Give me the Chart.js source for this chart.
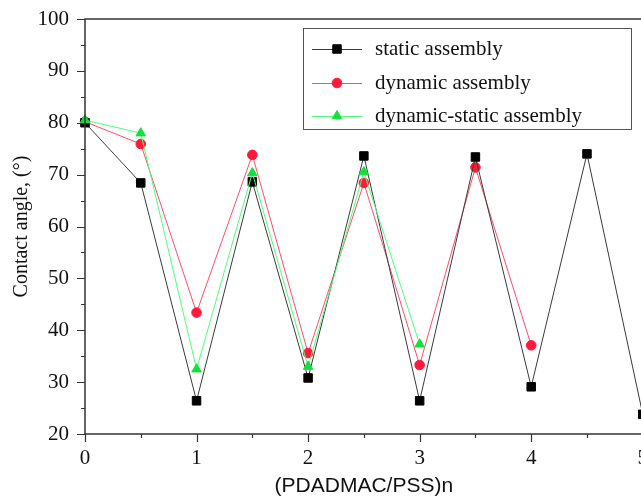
<!DOCTYPE html>
<html>
<head>
<meta charset="utf-8">
<script src="https://cdn.jsdelivr.net/npm/chart.js@4"></script>
<style>
  html, body { margin: 0; padding: 0; background: #fff; overflow: hidden; }
  canvas { display: block; }
</style>
</head>
<body>
<canvas id="angleChart" width="660" height="502"></canvas>
<script>
// layer counts (PDADMAC/PSS)n
const layers = [0, 0.5, 1, 1.5, 2, 2.5, 3, 3.5, 4, 4.5, 5];

// contact angles
const staticAngle = [80, 68.4, 26.4, 68.6, 30.8, 73.6, 26.4, 73.4, 29.1, 74, 23.8];
const dynamicAngle = [80.2, 75.9, 43.4, 73.8, 35.6, 68.4, 33.3, 71.4, 37.1];
const dynStaticAngle = [80.5, 78, 32.5, 70.3, 33, 70.5, 37.3];

const seriesNames = ['static assembly', 'dynamic assembly', 'dynamic-static assembly'];

const serif = "'Liberation Serif', 'Times New Roman', serif";

function toPoints(values) {
    return values.map((v, i) => ({ x: layers[i], y: v }));
}

// ticks drawn by hand so that minor ticks are shorter
const frameAndTicks = {
    id: 'frameAndTicks',
    afterDatasetsDraw(chart) {
        const ctx = chart.ctx;
        const area = chart.chartArea;
        const xs = chart.scales.x;
        const ys = chart.scales.y;
        ctx.save();
        ctx.strokeStyle = '#333';
        ctx.lineWidth = 1.5;
        ctx.strokeRect(area.left, area.top, area.right - area.left, area.bottom - area.top);
        ctx.lineWidth = 1.2;
        ctx.beginPath();
        for (let v = 20; v <= 100; v += 5) {
            const py = Math.round(ys.getPixelForValue(v)) + 0.5;
            const len = v % 10 === 0 ? 8 : 4;
            ctx.moveTo(area.left - len, py);
            ctx.lineTo(area.left, py);
        }
        for (let v = 0; v <= 5; v += 0.5) {
            const px = Math.round(xs.getPixelForValue(v)) + 0.5;
            const len = v % 1 === 0 ? 8 : 4;
            ctx.moveTo(px, area.bottom);
            ctx.lineTo(px, area.bottom + len);
        }
        ctx.stroke();
        ctx.restore();
    }
};

function drawMarker(ctx, style, r, x, y) {
    if (style === 'rect') {
        const s = Math.SQRT1_2 * r;
        ctx.rect(x - s, y - s, 2 * s, 2 * s);
    } else if (style === 'triangle') {
        ctx.moveTo(x, y - r);
        ctx.lineTo(x + r * 0.866, y + r * 0.5);
        ctx.lineTo(x - r * 0.866, y + r * 0.5);
        ctx.closePath();
    } else {
        ctx.arc(x, y, r, 0, Math.PI * 2);
    }
}

// legend box inside the plot, line + marker samples
const boxLegend = {
    id: 'boxLegend',
    afterDraw(chart) {
        const ctx = chart.ctx;
        ctx.save();
        ctx.strokeStyle = '#555';
        ctx.lineWidth = 1;
        ctx.fillStyle = '#fff';
        ctx.fillRect(303.5, 28.5, 328, 101);
        ctx.strokeRect(303.5, 28.5, 328, 101);
        const rows = [49, 83, 116];
        chart.data.datasets.forEach((ds, i) => {
            const y = rows[i];
            ctx.strokeStyle = ds.borderColor;
            ctx.lineWidth = 1;
            ctx.beginPath();
            ctx.moveTo(312, y + 0.5);
            ctx.lineTo(362, y + 0.5);
            ctx.stroke();
            ctx.fillStyle = ds.pointBackgroundColor;
            ctx.strokeStyle = ds.pointBorderColor;
            ctx.beginPath();
            drawMarker(ctx, ds.pointStyle, ds.pointRadius, 337, y);
            ctx.fill();
            ctx.stroke();
            ctx.fillStyle = '#111';
            ctx.font = '21px ' + serif;
            ctx.textBaseline = 'middle';
            ctx.fillText(seriesNames[i], 375, y);
        });
        ctx.restore();
    }
};

new Chart(document.getElementById('angleChart').getContext('2d'), {
    type: 'line',
    data: {
        datasets: [
            {
                label: seriesNames[0],
                data: toPoints(staticAngle),
                borderColor: '#3a3a3a',
                borderWidth: 1,
                pointStyle: 'rect',
                pointRadius: 6,
                pointBackgroundColor: '#000',
                pointBorderColor: '#000',
                pointBorderWidth: 1,
                order: 1
            },
            {
                label: seriesNames[1],
                data: toPoints(dynamicAngle),
                borderColor: '#ff4d6a',
                borderWidth: 1,
                pointStyle: 'circle',
                pointRadius: 4.8,
                pointBackgroundColor: '#ff1a3c',
                pointBorderColor: '#ff1a3c',
                pointBorderWidth: 1,
                order: 2
            },
            {
                label: seriesNames[2],
                data: toPoints(dynStaticAngle),
                borderColor: '#4dff7a',
                borderWidth: 1,
                pointStyle: 'triangle',
                pointRadius: 5.5,
                pointBackgroundColor: '#14e03c',
                pointBorderColor: '#14e03c',
                pointBorderWidth: 1,
                order: 0
            }
        ]
    },
    options: {
        responsive: false,
        animation: false,
        clip: false,
        layout: { padding: { left: 0, top: 19, right: 16, bottom: 0 } },
        plugins: {
            legend: { display: false },
            tooltip: { enabled: false }
        },
        scales: {
            x: {
                type: 'linear',
                min: 0,
                max: 5,
                grid: { display: false, drawTicks: false },
                border: { display: false },
                ticks: {
                    stepSize: 1,
                    padding: 12,
                    color: '#111',
                    font: { family: serif, size: 21 }
                },
                title: {
                    display: true,
                    text: '(PDADMAC/PSS)n',
                    color: '#111',
                    font: { family: "'Liberation Sans', Arial, sans-serif", size: 21, lineHeight: 1.2 },
                    padding: { top: 0, bottom: 3 }
                },
                afterFit(scale) { scale.height = 68; }
            },
            y: {
                min: 20,
                max: 100,
                grid: { display: false, drawTicks: false },
                border: { display: false },
                ticks: {
                    stepSize: 10,
                    padding: 16,
                    color: '#111',
                    font: { family: serif, size: 21 }
                },
                title: {
                    display: true,
                    text: 'Contact angle, (°)',
                    color: '#111',
                    font: { family: serif, size: 20, lineHeight: 1.2 },
                    padding: { top: 10, bottom: 0 }
                },
                afterFit(scale) {
                    scale.width = 85;
                    scale.paddingTop = 0;
                    scale.paddingBottom = 0;
                }
            }
        }
    },
    plugins: [frameAndTicks, boxLegend]
});
</script>
</body>
</html>
